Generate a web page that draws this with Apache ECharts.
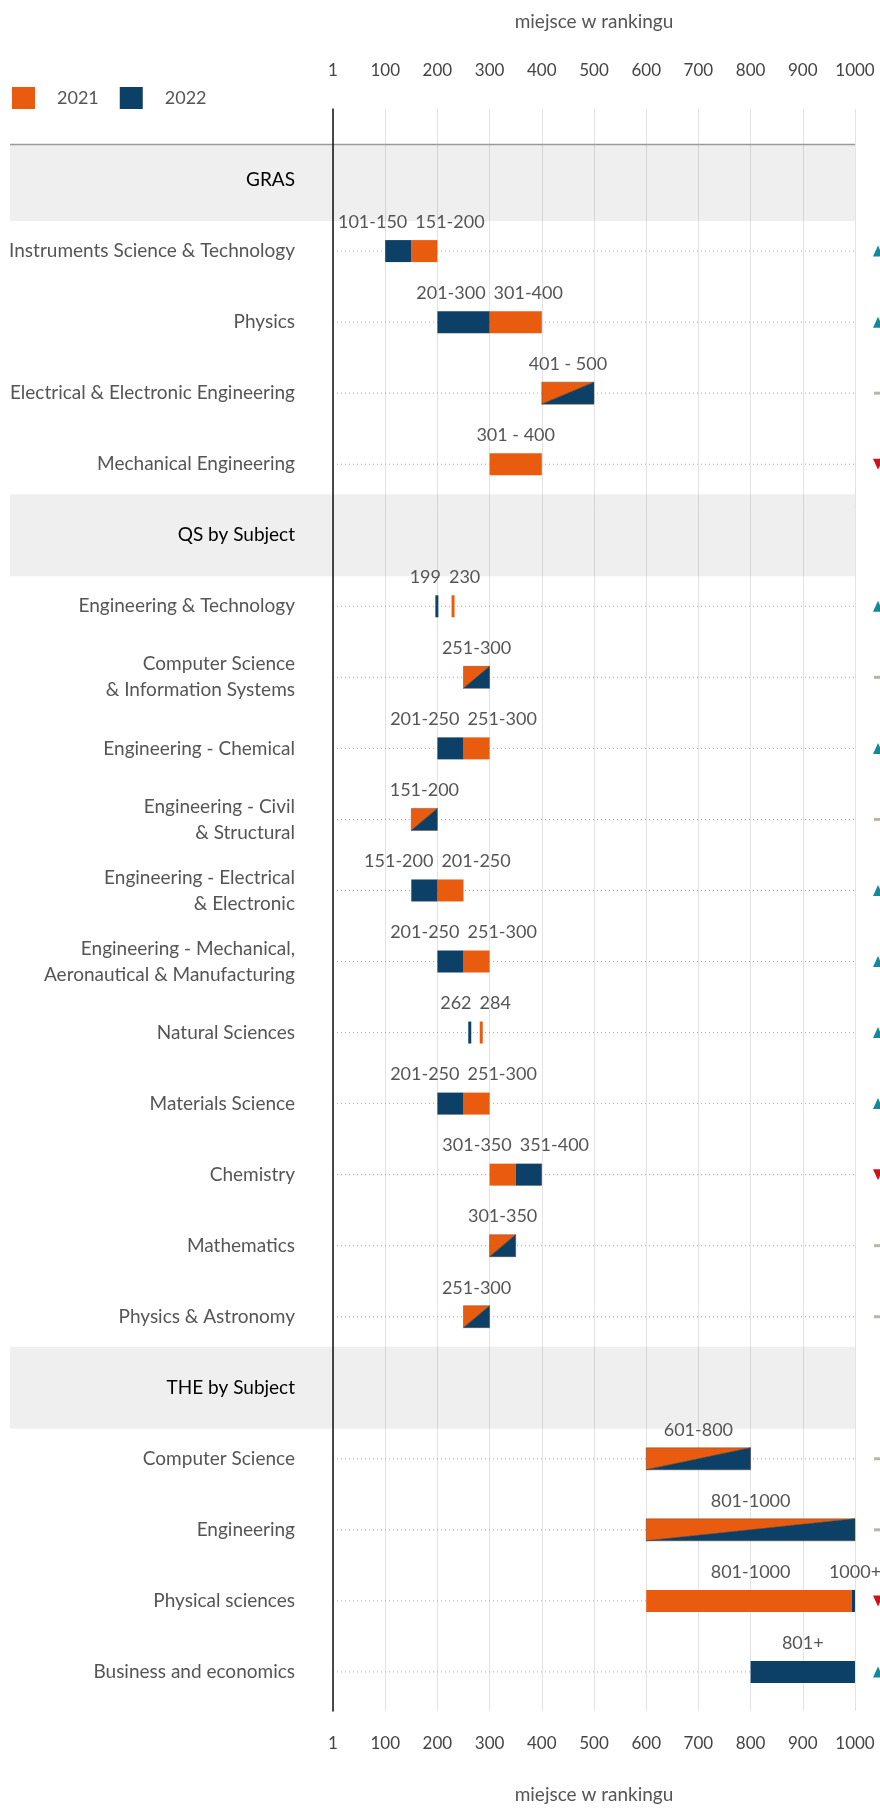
<!DOCTYPE html>
<html>
<head>
<meta charset="utf-8">
<script src="https://cdn.jsdelivr.net/npm/echarts@6/dist/echarts.min.js"></script>
<style>
  html, body { margin: 0; padding: 0; background: #fff; }
  #chart { width: 880px; height: 1809px; }
</style>
</head>
<body>
<div id="chart"></div>
<script>
  // wiersze od gory; naglowki sekcji w headerRows
  var rowNames = [
    'GRAS',
    'Instruments Science & Technology',
    'Physics',
    'Electrical & Electronic Engineering',
    'Mechanical Engineering',
    'QS by Subject',
    'Engineering & Technology',
    'Computer Science\n& Information Systems',
    'Engineering - Chemical',
    'Engineering - Civil\n& Structural',
    'Engineering - Electrical\n& Electronic',
    'Engineering - Mechanical,\nAeronautical & Manufacturing',
    'Natural Sciences',
    'Materials Science',
    'Chemistry',
    'Mathematics',
    'Physics & Astronomy',
    'THE by Subject',
    'Computer Science',
    'Engineering',
    'Physical sciences',
    'Business and economics'
  ]
  var headerRows = [0, 5, 17]

  var start2021 = [null, 150, 300, 400, 300, null, 230, 250, 250, 150, 200, 250, 284, 250, 300, 300, 250, null, 600, 600, 600, null]
  var end2021 = [null, 200, 400, 500, 400, null, 230, 300, 300, 200, 250, 300, 284, 300, 350, 350, 300, null, 800, 1000, 1000, null]
  var label2021 = ['', '151-200', '301-400', '401 - 500', '301 - 400', '', '230', '251-300', '251-300', '151-200', '201-250', '251-300', '284', '251-300', '301-350', '301-350', '251-300', '', '601-800', '801-1000', '801-1000', '']

  var start2022 = [null, 100, 200, 400, null, null, 199, 250, 200, 150, 150, 200, 262, 200, 350, 300, 250, null, 600, 600, 1000, 800]
  var end2022 = [null, 150, 300, 500, null, null, 199, 300, 250, 200, 200, 250, 262, 250, 400, 350, 300, null, 800, 1000, 1000, 1000]
  var label2022 = ['', '101-150', '201-300', '401 - 500', '', '', '199', '251-300', '201-250', '151-200', '151-200', '201-250', '262', '201-250', '351-400', '301-350', '251-300', '', '601-800', '801-1000', '1000+', '801+']

  var trend = ['', 'up', 'up', 'same', 'down', '', 'up', 'same', 'up', 'same', 'up', 'up', 'up', 'up', 'down', 'same', 'same', '', 'same', 'same', 'down', 'up']

  var xTicks = [0, 100, 200, 300, 400, 500, 600, 700, 800, 900, 1000]

  var ORANGE = '#e95c0f'
  var NAVY = '#0c4066'
  var FONT = 'Lato, "Noto Sans", sans-serif'
  var trendColors = { up: '#15899a', down: '#d0101f', same: '#bbb4aa' }

  var measureCtx = document.createElement('canvas').getContext('2d')
  measureCtx.font = '400 18px ' + FONT
  function textWidth (t) { return measureCtx.measureText(t).width }

  function isHeader (i) { return headerRows.indexOf(i) >= 0 }
  function isSplit (i) {
    return start2021[i] != null && start2021[i] === start2022[i] && end2021[i] === end2022[i]
  }

  function barRender (year) {
    return function (params, api) {
      var i = api.value(2)
      var a = api.coord([api.value(0), i])
      var b = api.coord([api.value(1), i])
      var h = 22
      var y0 = a[1] - h / 2
      var y1 = a[1] + h / 2
      var x0 = a[0]
      var x1 = b[0]
      if (x1 - x0 < 3) {
        var c = (x0 + x1) / 2
        x0 = c - 1.5
        x1 = c + 1.5
        if (x1 > b[0] && api.value(1) >= 1000) { x1 = b[0]; x0 = x1 - 3 }
      }
      var color = year === 2021 ? ORANGE : NAVY
      if (isSplit(i)) {
        var pts = year === 2021
          ? [[x0, y0], [x1, y0], [x0, y1]]
          : [[x1, y0], [x1, y1], [x0, y1]]
        return { type: 'polygon', shape: { points: pts }, style: { fill: color, stroke: 'rgba(90,60,40,0.55)', lineWidth: 0.8 } }
      }
      return { type: 'rect', shape: { x: x0, y: y0, width: x1 - x0, height: h }, style: { fill: color } }
    }
  }

  function barData (starts, ends) {
    var out = []
    starts.forEach(function (s, i) { if (s != null) out.push([s, ends[i], i]) })
    return out
  }

  var rowIdx = rowNames.map(function (n, i) { return i })
  var itemRows = rowIdx.filter(function (i) { return !isHeader(i) })

  function tickText (v) { return xTicks.indexOf(v) < 0 ? '' : (v === 0 ? '1' : String(v)) }

  var option = {
    animation: false,
    textStyle: { fontFamily: FONT },
    legend: {
      left: 12,
      top: 87,
      padding: 0,
      itemWidth: 23,
      itemHeight: 22,
      itemGap: 21,
      selectedMode: false,
      icon: 'rect',
      data: ['2021', '2022'],
      textStyle: { fontSize: 18, color: '#555', fontWeight: 400, fontFamily: FONT, padding: [0, 0, 0, 17] }
    },
    grid: { left: 333, right: 25, top: 109, bottom: 96 },
    xAxis: [
      {
        type: 'value', position: 'top', min: 0, max: 1000, interval: 100,
        name: 'miejsce w rankingu', nameLocation: 'middle', nameGap: 78,
        nameTextStyle: { fontSize: 19, color: '#555', fontWeight: 400, fontFamily: FONT },
        axisLine: { show: false, onZero: false }, axisTick: { show: false },
        axisLabel: { margin: 30, fontSize: 17, color: '#444', fontWeight: 400, fontFamily: FONT, formatter: tickText },
        splitLine: { show: true, lineStyle: { color: '#e3e3e3', width: 1 } }
      },
      {
        type: 'value', position: 'bottom', min: 0, max: 1000, interval: 100,
        name: 'miejsce w rankingu', nameLocation: 'middle', nameGap: 74,
        nameTextStyle: { fontSize: 19, color: '#555', fontWeight: 400, fontFamily: FONT },
        axisLine: { show: false, onZero: false }, axisTick: { show: false },
        axisLabel: { margin: 24, fontSize: 17, color: '#444', fontWeight: 400, fontFamily: FONT, formatter: tickText },
        splitLine: { show: false }
      }
    ],
    yAxis: {
      type: 'value', inverse: true, min: -1, max: 21.55, interval: 1, z: 5,
      axisLine: { show: true, onZero: false, lineStyle: { color: '#111', width: 1.5 } },
      axisTick: { show: false },
      splitLine: { show: false },
      axisLabel: {
        margin: 38, fontSize: 19, lineHeight: 26, color: '#555', fontWeight: 400, fontFamily: FONT, align: 'right',
        formatter: function (v) {
          if (v < 0 || Math.round(v) !== v || v >= rowNames.length) return ''
          return isHeader(v) ? '{h|' + rowNames[v] + '}' : rowNames[v]
        },
        rich: { h: { fontSize: 19, color: '#000', fontWeight: 400, fontFamily: FONT } }
      }
    },
    series: [
      {
        type: 'custom', name: 'tlo', silent: true, z: 1, clip: false,
        data: rowIdx.map(function (i) { return [i] }),
        renderItem: function (params, api) {
          var i = api.value(0)
          var l = api.coord([0, i])
          var r = api.coord([1000, i])
          if (isHeader(i)) {
            var topEdge = api.coord([0, -0.5])[1]
            var y0 = Math.max(l[1] - 41, topEdge)
            var kids = [{ type: 'rect', shape: { x: 10, y: y0, width: r[0] - 10, height: l[1] + 41 - y0 }, style: { fill: 'rgba(0,0,0,0.062)' } }]
            if (i === headerRows[0]) {
              kids.push({ type: 'line', shape: { x1: 10, y1: y0, x2: r[0], y2: y0 }, style: { stroke: '#9a9a9a', lineWidth: 1.5 } })
            }
            return { type: 'group', children: kids }
          }
          return { type: 'line', shape: { x1: l[0], y1: l[1], x2: r[0] + 1, y2: r[1] }, style: { stroke: '#a8a8a8', lineWidth: 1, lineDash: [1, 3] } }
        }
      },
      {
        type: 'custom', name: '2021', z: 2, itemStyle: { color: ORANGE },
        data: barData(start2021, end2021), renderItem: barRender(2021)
      },
      {
        type: 'custom', name: '2022', z: 3, itemStyle: { color: NAVY },
        data: barData(start2022, end2022), renderItem: barRender(2022)
      },
      {
        type: 'custom', name: 'etykiety', silent: true, z: 4, clip: false,
        data: itemRows.map(function (i) { return [i] }),
        renderItem: function (params, api) {
          var i = api.value(0)
          var y = api.coord([0, i])[1] - 29
          var mid = function (s, e) { return (api.coord([s, i])[0] + api.coord([e, i])[0]) / 2 }
          var segs = []
          if (isSplit(i)) {
            segs.push({ text: label2021[i], c: mid(start2021[i], end2021[i]) })
          } else {
            if (start2021[i] != null) segs.push({ text: label2021[i], c: mid(start2021[i], end2021[i]) })
            if (start2022[i] != null) segs.push({ text: label2022[i], c: mid(start2022[i], end2022[i]) })
            segs.sort(function (a, b) { return a.c - b.c })
            if (segs.length === 2) {
              var need = (textWidth(segs[0].text) + textWidth(segs[1].text)) / 2 + 8
              var d = segs[1].c - segs[0].c
              if (d < need) {
                var p = (need - d) / 2
                segs[0].c -= p
                segs[1].c += p
              }
            }
          }
          return {
            type: 'group',
            children: segs.map(function (s) {
              return { type: 'text', x: s.c, y: y, style: { text: s.text, fill: '#555', fontSize: 18, fontWeight: 400, fontFamily: FONT, align: 'center', verticalAlign: 'middle' } }
            })
          }
        }
      },
      {
        type: 'custom', name: 'trend', silent: true, z: 4, clip: false,
        data: itemRows.map(function (i) { return [i] }),
        renderItem: function (params, api) {
          var i = api.value(0)
          var p = api.coord([1000, i])
          var x = p[0] + 18
          var y = p[1]
          var col = trendColors[trend[i]]
          if (trend[i] === 'up') {
            return { type: 'polygon', shape: { points: [[x, y + 5.5], [x + 10, y + 5.5], [x + 5, y - 5.5]] }, style: { fill: col } }
          }
          if (trend[i] === 'down') {
            return { type: 'polygon', shape: { points: [[x, y - 5.5], [x + 10, y - 5.5], [x + 5, y + 5.5]] }, style: { fill: col } }
          }
          return { type: 'rect', shape: { x: x + 1, y: y - 1.5, width: 10, height: 3 }, style: { fill: col } }
        }
      }
    ]
  }

  var myChart = echarts.init(document.getElementById('chart'))
  myChart.setOption(option)
</script>
</body>
</html>
